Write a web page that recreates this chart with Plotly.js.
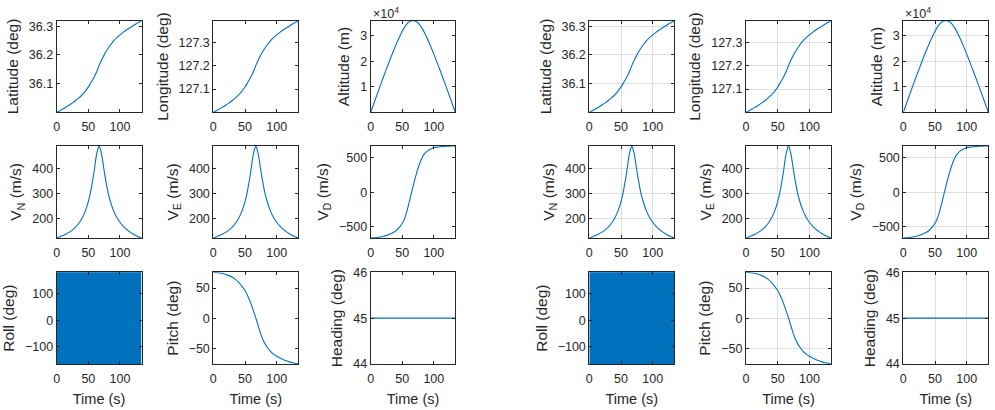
<!DOCTYPE html>
<html>
<head>
<meta charset="utf-8">
<script src="https://cdn.plot.ly/plotly-3.0.1.min.js"></script>
<style>
html,body{margin:0;padding:0;background:#fff;}
#chart{width:995px;height:410px;}
</style>
</head>
<body>
<div id="chart"></div>
<script>
// ---- data (time in s) ----
const time = [0,5,10,15,20,25,30,35,40,45,50,53,56,59,62,64,66,67,68,70,72,75,78,81,85,90,95,100,105,110,115,120,125,130,134];
const latitude = [36.0000,36.0057,36.0121,36.0185,36.0255,36.0329,36.0412,36.0501,36.0603,36.0727,36.0884,36.0989,36.1104,36.1222,36.1359,36.1458,36.1573,36.1627,36.1678,36.1780,36.1869,36.2000,36.2118,36.2223,36.2351,36.2491,36.2600,36.2696,36.2785,36.2865,36.2938,36.3008,36.3075,36.3136,36.3190];
const longitude = [127.0000,127.0071,127.0150,127.0229,127.0316,127.0407,127.0510,127.0620,127.0747,127.0901,127.1094,127.1225,127.1367,127.1513,127.1683,127.1805,127.1947,127.2015,127.2078,127.2204,127.2315,127.2477,127.2623,127.2753,127.2911,127.3085,127.3219,127.3338,127.3448,127.3547,127.3638,127.3725,127.3808,127.3883,127.3950];
const altitude = [0,3460,6900,10320,13680,16990,20220,23360,26360,29170,31690,32990,34100,34990,35520,35720,35795,35800,35795,35720,35520,34990,34100,32990,31210,28630,25770,22740,19580,16330,13010,9640,6210,2770,0];
const velNorth = [125,130,135,141,148,157,168,183,203,230,268,300,340,385,440,465,483,488,483,465,440,390,345,306,268,232,206,187,172,160,150,142,135,129,125];
const velEast = [125,130,135,141,148,157,168,183,203,230,268,300,340,385,440,465,483,488,483,465,440,390,345,306,268,232,206,187,172,160,150,142,135,129,125];
const velDown = [-665,-662,-657,-650,-640,-628,-612,-590,-560,-515,-450,-400,-318,-215,-105,-30,45,82,118,190,256,350,430,497,558,603,630,647,657,663,667,670,672,674,675];
const rollUpper = [180,180,180,180,180,180,180,180,180,180,180,180,180,180,180,180,180,180,180,180,180,180,180,180,180,180,180,180,180,180,180,180,180,180,180];
const rollLower = [-165,-165,-165,-165,-165,-165,-165,-165,-165,-165,-165,-165,-165,-165,-165,-165,-165,-165,-165,-165,-165,-165,-165,-165,-165,-165,-165,-165,-165,-165,-165,-165,-165,-165,-165];
const pitch = [76.0,75.6,74.9,73.9,72.5,70.5,67.9,64.3,59.5,53.2,45.8,39.8,33.0,25.0,16.2,10.0,3.8,0.6,-2.5,-9.5,-16.5,-26.5,-34.5,-41.0,-47.8,-54.5,-59.2,-62.8,-65.7,-68.2,-70.3,-72.0,-73.4,-74.6,-75.5];
const heading = [45,45,45,45,45,45,45,45,45,45,45,45,45,45,45,45,45,45,45,45,45,45,45,45,45,45,45,45,45,45,45,45,45,45,45];

const xTicks = [0,50,100];
const latTicks = [36.1,36.2,36.3];
const lonTicks = [127.1,127.2,127.3];
const altTicks = [10000,20000,30000];
const altTickText = ['1','2','3'];
const velTicks = [200,300,400];
const vdTicks = [-500,0,500];
const rollTicks = [-100,0,100];
const pitchTicks = [-50,0,50];
const headTicks = [44,45,46];
const headRange = [44,46];

const yTitles = ['Latitude (deg)','Longitude (deg)','Altitude (m)',
  'V<sub>N</sub> (m/s)','V<sub>E</sub> (m/s)','V<sub>D</sub> (m/s)',
  'Roll (deg)','Pitch (deg)','Heading (deg)'];
const xTitle = 'Time (s)';

// ---- layout geometry ----
const W = 995, H = 410;
const colsPx = [[56.7,141.5],[213.3,298.3],[370.7,455.3],[589.3,674.3],[746,831],[903.3,988.3]];
const rowsPx = [[20.7,112.3],[145.9,238],[272.3,364]];
const BLUE = '#0072BD';
const AX = '#262626';
const FONT = 'Liberation Sans, Arial, Helvetica, sans-serif';

const panels = [
  {y: latitude, ticks: latTicks},
  {y: longitude, ticks: lonTicks},
  {y: altitude, ticks: altTicks, text: altTickText, exp: true},
  {y: velNorth, ticks: velTicks},
  {y: velEast, ticks: velTicks},
  {y: velDown, ticks: vdTicks},
  {roll: true, ticks: rollTicks},
  {y: pitch, ticks: pitchTicks},
  {y: heading, ticks: headTicks, range: headRange}
];

const traces = [];
const layout = {
  width: W, height: H,
  margin: {l:0, r:0, t:0, b:0},
  paper_bgcolor: '#fff', plot_bgcolor: '#fff',
  showlegend: false,
  font: {family: FONT, size: 12.5, color: AX},
  annotations: []
};

const tMin = Math.min(...time), tMax = Math.max(...time);
let n = 0;
for (let g = 0; g < 2; g++) {
  const grid = (g === 1);
  for (let p = 0; p < 9; p++) {
    n++;
    const r = Math.floor(p / 3), c = p % 3 + g * 3;
    const xa = 'x' + (n === 1 ? '' : n), ya = 'y' + (n === 1 ? '' : n);
    const xk = 'xaxis' + (n === 1 ? '' : n), yk = 'yaxis' + (n === 1 ? '' : n);
    const P = panels[p];
    let yr;
    if (P.roll) {
      traces.push({x: time, y: rollUpper, xaxis: xa, yaxis: ya, type: 'scatter', mode: 'lines',
        line: {color: BLUE, width: 1}, hoverinfo: 'skip'});
      traces.push({x: time, y: rollLower, xaxis: xa, yaxis: ya, type: 'scatter', mode: 'lines',
        fill: 'tonexty', fillcolor: BLUE, line: {color: BLUE, width: 1}, hoverinfo: 'skip'});
      yr = [Math.min(...rollLower), Math.max(...rollUpper)];
    } else {
      traces.push({x: time, y: P.y, xaxis: xa, yaxis: ya, type: 'scatter', mode: 'lines',
        line: {color: BLUE, width: 1.1, shape: 'spline', smoothing: 0.6}, hoverinfo: 'skip'});
      yr = P.range ? P.range : [Math.min(...P.y), Math.max(...P.y)];
    }
    const common = {
      showline: true, linecolor: AX, linewidth: 1, mirror: 'ticks',
      ticks: 'inside', ticklen: 3, tickwidth: 1, tickcolor: AX,
      zeroline: false, showgrid: grid, gridcolor: '#dfdfdf', gridwidth: 1,
      tickfont: {family: FONT, size: 12.5, color: AX}, fixedrange: true
    };
    const xax = Object.assign({}, common, {
      domain: [colsPx[c][0] / W, colsPx[c][1] / W],
      anchor: ya, range: [tMin, tMax], tickmode: 'array', tickvals: xTicks,
      ticklabelstandoff: 3
    });
    if (r === 2) xax.title = {text: xTitle, font: {family: FONT, size: 14.5, color: AX}, standoff: 8};
    layout[xk] = xax;
    const yax = Object.assign({}, common, {
      domain: [1 - rowsPx[r][1] / H, 1 - rowsPx[r][0] / H],
      anchor: xa, range: yr, tickmode: 'array', tickvals: P.ticks,
      title: {text: yTitles[p], font: {family: FONT, size: 15.5, color: AX}, standoff: 6}
    });
    if (P.text) yax.ticktext = P.text;
    layout[yk] = yax;
    if (P.exp) {
      layout.annotations.push({
        xref: 'paper', yref: 'paper', x: colsPx[c][0] / W, y: 1 - rowsPx[r][0] / H,
        xanchor: 'left', yanchor: 'bottom', showarrow: false, yshift: -2,
        text: '×10<sup>4</sup>', font: {family: FONT, size: 12.5, color: AX}
      });
    }
  }
}

Plotly.newPlot('chart', traces, layout, {staticPlot: true, displayModeBar: false});
</script>
</body>
</html>
